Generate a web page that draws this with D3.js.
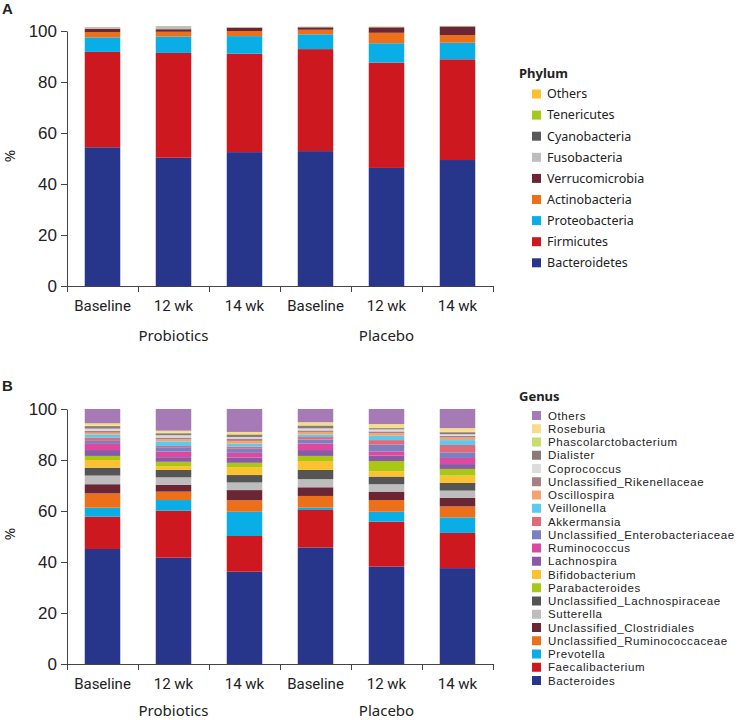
<!DOCTYPE html>
<html>
<head>
<meta charset="utf-8">
<script src="https://cdn.jsdelivr.net/npm/d3@7"></script>
<style>
  body { margin: 0; background: #fff; }
  svg { display: block; }
</style>
</head>
<body>
<svg id="chart" width="739" height="720"></svg>
<script>
// ---------- shared categories ----------
const samples = ["Baseline", "12 wk", "14 wk", "Baseline", "12 wk", "14 wk"];
const groups = ["Probiotics", "Placebo"];
const yTicks = [0, 20, 40, 60, 80, 100];

// ---------- Panel A: phylum (%), bottom -> top ----------
const phylumNames = ["Bacteroidetes", "Firmicutes", "Proteobacteria", "Actinobacteria",
  "Verrucomicrobia", "Fusobacteria", "Cyanobacteria", "Tenericutes", "Others"];
const bacteroidetes   = [54.4, 50.3, 52.5, 52.9, 46.3, 49.4];
const firmicutes      = [37.4, 41.1, 38.6, 40.0, 41.3, 39.5];
const proteobacteria  = [5.7, 6.4, 6.9, 5.8, 7.6, 6.5];
const actinobacteria  = [2.1, 1.9, 2.0, 1.8, 4.1, 3.0];
const verrucomicrobia = [1.3, 1.0, 1.2, 0.9, 2.1, 3.3];
const fusobacteria    = [0.4, 1.0, 0.1, 0.1, 0.1, 0.1];
const cyanobacteria   = [0.1, 0.1, 0.1, 0.1, 0.1, 0.1];
const tenericutes     = [0.05, 0.05, 0.05, 0.05, 0.05, 0.05];
const othersPhylum    = [0.05, 0.05, 0.05, 0.05, 0.05, 0.05];
const phylumColors = ["#27358a", "#cc181e", "#0aaee6", "#ec6f1a", "#6a2634",
  "#bdbdbd", "#595959", "#a6c81a", "#fbc02d"];

// ---------- Panel B: genus (%), bottom -> top ----------
const genusNames = ["Bacteroides", "Faecalibacterium", "Prevotella", "Unclassified_Ruminococcaceae",
  "Unclassified_Clostridiales", "Sutterella", "Unclassified_Lachnospiraceae", "Bifidobacterium",
  "Parabacteroides", "Lachnospira", "Ruminococcus", "Unclassified_Enterobacteriaceae", "Akkermansia",
  "Veillonella", "Oscillospira", "Unclassified_Rikenellaceae", "Coprococcus", "Dialister",
  "Phascolarctobacterium", "Roseburia", "Others"];
const bacteroides           = [45.1, 41.7, 36.2, 45.7, 38.2, 37.6];
const faecalibacterium      = [12.7, 18.4, 14.0, 14.7, 17.6, 13.8];
const prevotella            = [3.5, 4.2, 9.5, 0.9, 3.9, 6.1];
const uRuminococcaceae      = [5.6, 3.3, 4.5, 4.6, 4.6, 4.3];
const uClostridiales        = [3.6, 2.7, 4.0, 3.4, 3.3, 3.3];
const sutterella            = [3.4, 2.9, 3.0, 3.2, 2.9, 2.9];
const uLachnospiraceae      = [3.1, 2.9, 2.9, 3.6, 3.0, 3.0];
const bifidobacterium       = [3.0, 1.5, 3.1, 3.5, 2.1, 2.9];
const parabacteroides       = [1.6, 1.7, 1.7, 2.0, 4.0, 2.6];
const lachnospira           = [2.3, 1.8, 2.1, 2.3, 2.1, 1.9];
const ruminococcus          = [2.4, 2.2, 1.8, 2.6, 1.7, 2.4];
const uEnterobacteriaceae   = [1.2, 1.7, 1.6, 1.5, 2.6, 2.2];
const akkermansia           = [1.2, 0.5, 0.8, 1.0, 1.8, 2.9];
const veillonella           = [1.2, 1.8, 1.2, 1.0, 1.7, 1.9];
const oscillospira          = [0.8, 0.8, 1.1, 1.0, 1.0, 1.0];
const uRikenellaceae        = [0.8, 0.7, 0.9, 0.6, 0.7, 0.7];
const coprococcus           = [0.8, 0.9, 0.6, 0.8, 0.8, 0.6];
const dialister             = [1.0, 0.8, 1.0, 1.1, 0.5, 0.8];
const phascolarctobacterium = [0.2, 0.2, 0.2, 0.2, 0.3, 0.2];
const roseburia             = [0.9, 0.8, 0.8, 1.1, 1.3, 1.4];
const othersGenus           = [5.6, 8.5, 9.0, 5.2, 5.9, 7.5];
const genusColors = ["#27358a", "#cc181e", "#0aaee6", "#ec6f1a", "#6a2634", "#bdbdbd", "#555555",
  "#fcc230", "#a9c715", "#8a5aa8", "#dc4aa0", "#7a80c0", "#e06a78", "#5ccaee", "#f3a470",
  "#a77f85", "#dcdcdc", "#8a7a7a", "#c8dc70", "#f8dc8c", "#a67bb5"];
// legend order (top -> bottom) as printed in the figure
const genusLegendOrder = ["Others", "Roseburia", "Phascolarctobacterium", "Dialister", "Coprococcus",
  "Unclassified_Rikenellaceae", "Oscillospira", "Veillonella", "Akkermansia",
  "Unclassified_Enterobacteriaceae", "Ruminococcus", "Lachnospira", "Bifidobacterium",
  "Parabacteroides", "Unclassified_Lachnospiraceae", "Sutterella", "Unclassified_Clostridiales",
  "Unclassified_Ruminococcaceae", "Prevotella", "Faecalibacterium", "Bacteroides"];

const phylumSeries = [bacteroidetes, firmicutes, proteobacteria, actinobacteria, verrucomicrobia,
  fusobacteria, cyanobacteria, tenericutes, othersPhylum];
const genusSeries = [bacteroides, faecalibacterium, prevotella, uRuminococcaceae, uClostridiales,
  sutterella, uLachnospiraceae, bifidobacterium, parabacteroides, lachnospira, ruminococcus,
  uEnterobacteriaceae, akkermansia, veillonella, oscillospira, uRikenellaceae, coprococcus,
  dialister, phascolarctobacterium, roseburia, othersGenus];

const svg = d3.select("#chart");
const AX_FONT = "'Liberation Sans', Arial, sans-serif";
const LBL_FONT = "'Noto Sans', 'Open Sans', sans-serif";
const NARROW = "'Liberation Sans Narrow', 'Roboto', sans-serif";

function panel(cfg) {
  const g = svg.append("g");
  const x = d3.scaleBand().domain(d3.range(samples.length)).range([67, 493])
    .paddingInner(0.5).paddingOuter(0.25);
  const xEdge = d3.scaleLinear().domain([0, samples.length]).range([67, 493]);
  const y = d3.scaleLinear().domain([0, 100]).range([cfg.y0, cfg.y0 - 255]);

  const rows = samples.map((s, i) => {
    const r = { idx: i };
    cfg.names.forEach((n, k) => r[n] = cfg.series[k][i]);
    return r;
  });
  const stack = d3.stack().keys(cfg.names)(rows);
  const color = d3.scaleOrdinal().domain(cfg.names).range(cfg.colors);

  g.append("g").selectAll("g").data(stack).join("g")
    .attr("fill", d => color(d.key))
    .selectAll("rect").data(d => d).join("rect")
    .attr("x", d => x(d.data.idx))
    .attr("width", x.bandwidth())
    .attr("y", d => y(d[1]))
    .attr("height", d => Math.max(0, y(d[0]) - y(d[1])));

  // y axis
  const ya = g.append("g").attr("transform", "translate(67,0)")
    .call(d3.axisLeft(y).tickValues(yTicks).tickSize(6).tickSizeOuter(0).tickPadding(4));
  ya.selectAll("text").style("font-family", AX_FONT).style("font-size", "17px").attr("fill", "#222");
  ya.selectAll("line, path").attr("stroke", "#444");

  // x axis (tick marks at band edges)
  const xa = g.append("g").attr("transform", `translate(0,${cfg.y0})`)
    .call(d3.axisBottom(xEdge).tickValues(d3.range(samples.length + 1)).tickSize(6)
      .tickSizeOuter(0).tickFormat(""));
  xa.selectAll("line, path").attr("stroke", "#444");

  g.append("g").selectAll("text").data(samples).join("text")
    .attr("x", (d, i) => x(i) + x.bandwidth() / 2)
    .attr("y", cfg.y0 + 25)
    .attr("text-anchor", "middle")
    .style("font-family", NARROW).style("font-size", "15px").attr("fill", "#222")
    .text(d => d);

  g.append("g").selectAll("text").data(groups).join("text")
    .attr("x", (d, i) => (x(i * 3 + 1) + x.bandwidth() / 2))
    .attr("y", cfg.y0 + cfg.groupDy)
    .attr("text-anchor", "middle")
    .style("font-family", LBL_FONT).style("font-size", "15px").attr("fill", "#222")
    .text(d => d);

  // % label
  g.append("text")
    .attr("transform", `translate(15,${cfg.y0 - 130}) rotate(-90)`)
    .attr("text-anchor", "middle")
    .style("font-family", LBL_FONT).style("font-size", "15px").attr("fill", "#222")
    .text("%");

  // panel letter
  g.append("text").attr("x", 2).attr("y", cfg.letterY)
    .style("font-family", AX_FONT).style("font-size", "15px").style("font-weight", "bold")
    .attr("fill", "#222").text(cfg.letter);

  // legend
  const lg = g.append("g");
  lg.append("text").attr("x", 519).attr("y", cfg.legTitleY)
    .style("font-family", LBL_FONT).style("font-size", cfg.legTitleSize).style("font-weight", "bold")
    .attr("fill", "#222").text(cfg.title);
  const items = lg.selectAll("g.item").data(cfg.legendOrder).join("g").attr("class", "item")
    .attr("transform", (d, i) => `translate(0,${cfg.legY0 + i * cfg.legStep})`);
  items.append("rect").attr("x", cfg.sqX).attr("y", -cfg.sq / 2).attr("width", cfg.sq).attr("height", cfg.sq)
    .attr("fill", d => color(d));
  items.append("text").attr("x", cfg.txtX).attr("y", 0).attr("dy", "0.35em")
    .style("font-family", cfg.legFamily).style("font-size", cfg.legFont)
    .style("letter-spacing", cfg.legSpacing).attr("fill", "#222")
    .text(d => d);
}

panel({
  y0: 286, letter: "A", letterY: 14, names: phylumNames, series: phylumSeries, colors: phylumColors,
  title: "Phylum", legTitleY: 78, legTitleSize: "13px", legendOrder: phylumNames.slice().reverse(),
  legY0: 94, legStep: 21.1, sqX: 532, sq: 9, txtX: 547, legFont: "12.5px", legFamily: LBL_FONT,
  legSpacing: "0px", groupDy: 55
});
panel({
  y0: 664, letter: "B", letterY: 391, names: genusNames, series: genusSeries, colors: genusColors,
  title: "Genus", legTitleY: 401, legTitleSize: "13px", legendOrder: genusLegendOrder,
  legY0: 415.5, legStep: 13.25, sqX: 532, sq: 9, txtX: 548, legFont: "11.5px", legFamily: AX_FONT,
  legSpacing: "0.6px", groupDy: 52
});
</script>
</body>
</html>
